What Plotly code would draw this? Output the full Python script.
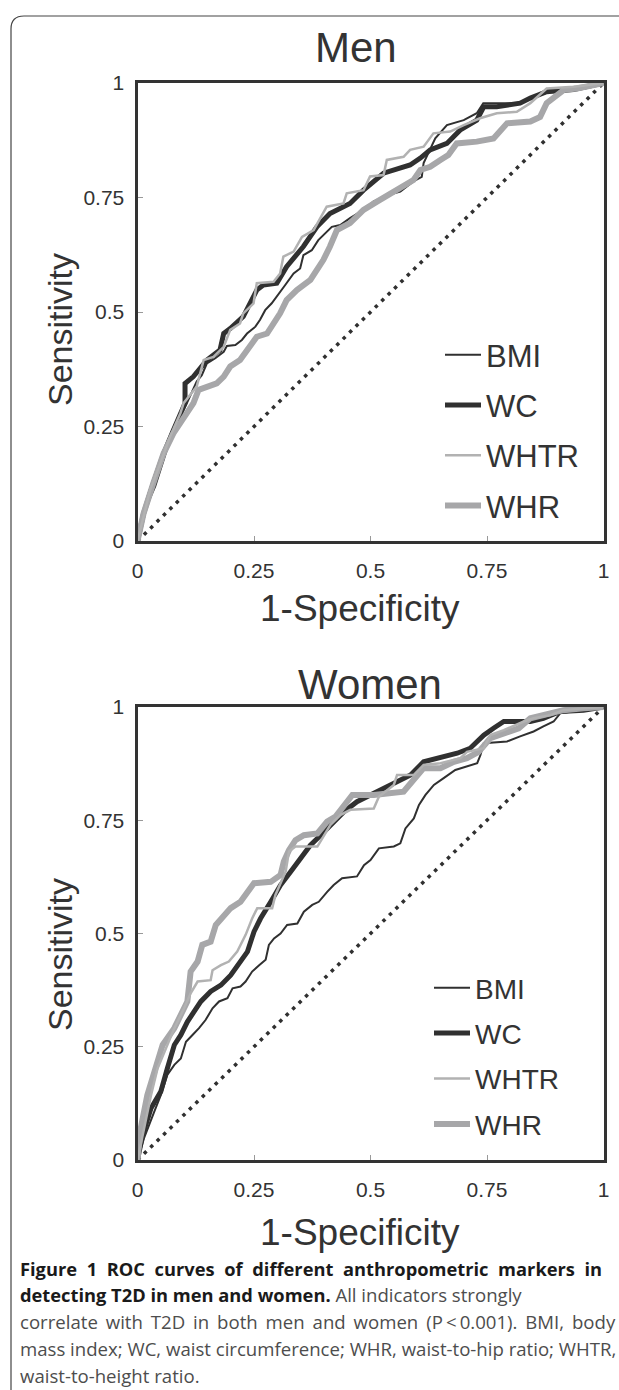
import plotly.graph_objects as go

W, H = 619, 1390

def px(x):
    return x / W

def py(y):
    return 1 - y / H

# ---------------- data ----------------
tick_vals = [0, 0.25, 0.5, 0.75, 1]
tick_text = ["0", "0.25", "0.5", "0.75", "1"]
diag_x = [0, 1]
diag_y = [0, 1]

# Men
men_bmi_x = [0, 0.016, 0.038, 0.063, 0.084, 0.106, 0.127, 0.138, 0.149, 0.167, 0.185, 0.192, 0.210, 0.224, 0.235, 0.253, 0.263, 0.274, 0.288, 0.303, 0.317, 0.335, 0.349, 0.356, 0.374, 0.388, 0.403, 0.417, 0.435, 0.456, 0.485, 0.506, 0.535, 0.564, 0.592, 0.610, 0.614, 0.628, 0.639, 0.664, 0.700, 0.728, 0.742, 0.818, 0.864, 0.900, 0.936, 0.986, 1]
men_bmi_y = [0, 0.068, 0.119, 0.199, 0.257, 0.301, 0.348, 0.362, 0.388, 0.399, 0.413, 0.426, 0.428, 0.439, 0.453, 0.468, 0.483, 0.504, 0.519, 0.541, 0.559, 0.584, 0.595, 0.624, 0.635, 0.657, 0.672, 0.686, 0.690, 0.705, 0.723, 0.741, 0.755, 0.763, 0.785, 0.795, 0.825, 0.854, 0.879, 0.908, 0.919, 0.934, 0.956, 0.956, 0.974, 0.985, 0.985, 0.996, 1]

men_wc_x = [0, 0.013, 0.034, 0.056, 0.077, 0.102, 0.102, 0.120, 0.149, 0.177, 0.185, 0.199, 0.227, 0.256, 0.270, 0.299, 0.320, 0.356, 0.385, 0.413, 0.456, 0.485, 0.528, 0.585, 0.607, 0.628, 0.664, 0.692, 0.728, 0.743, 0.771, 0.821, 0.843, 0.878, 0.936, 0.986, 1]
men_wc_y = [0, 0.060, 0.126, 0.191, 0.242, 0.301, 0.344, 0.359, 0.395, 0.417, 0.453, 0.464, 0.490, 0.548, 0.559, 0.563, 0.599, 0.643, 0.686, 0.715, 0.737, 0.766, 0.803, 0.821, 0.836, 0.854, 0.868, 0.897, 0.919, 0.948, 0.948, 0.956, 0.967, 0.981, 0.986, 0.996, 1]

men_whtr_x = [0, 0.013, 0.027, 0.049, 0.070, 0.092, 0.099, 0.127, 0.142, 0.163, 0.185, 0.199, 0.220, 0.227, 0.249, 0.256, 0.292, 0.306, 0.313, 0.335, 0.353, 0.378, 0.406, 0.442, 0.449, 0.485, 0.499, 0.528, 0.535, 0.571, 0.585, 0.614, 0.635, 0.671, 0.700, 0.735, 0.771, 0.814, 0.843, 0.878, 0.936, 1]
men_whtr_y = [0, 0.053, 0.111, 0.170, 0.228, 0.279, 0.301, 0.337, 0.395, 0.402, 0.424, 0.461, 0.475, 0.497, 0.519, 0.563, 0.566, 0.584, 0.621, 0.632, 0.664, 0.679, 0.730, 0.737, 0.759, 0.766, 0.796, 0.799, 0.832, 0.839, 0.854, 0.861, 0.890, 0.894, 0.908, 0.923, 0.934, 0.937, 0.956, 0.988, 0.992, 1]

men_whr_x = [0, 0.013, 0.034, 0.056, 0.077, 0.099, 0.120, 0.131, 0.149, 0.170, 0.185, 0.199, 0.220, 0.235, 0.256, 0.278, 0.292, 0.306, 0.320, 0.342, 0.371, 0.385, 0.399, 0.413, 0.428, 0.456, 0.485, 0.514, 0.542, 0.571, 0.592, 0.607, 0.628, 0.650, 0.667, 0.685, 0.728, 0.764, 0.778, 0.793, 0.843, 0.864, 0.878, 0.900, 0.915, 0.943, 0.986, 1]
men_whr_y = [0, 0.060, 0.126, 0.191, 0.235, 0.271, 0.301, 0.330, 0.337, 0.344, 0.359, 0.381, 0.395, 0.417, 0.446, 0.453, 0.475, 0.497, 0.526, 0.548, 0.570, 0.592, 0.614, 0.643, 0.679, 0.694, 0.723, 0.741, 0.759, 0.777, 0.788, 0.810, 0.817, 0.832, 0.843, 0.868, 0.872, 0.879, 0.897, 0.912, 0.916, 0.926, 0.956, 0.974, 0.985, 0.988, 0.996, 1]

# Women
women_bmi_x = [0, 0.014, 0.036, 0.050, 0.064, 0.079, 0.093, 0.104, 0.118, 0.132, 0.146, 0.161, 0.175, 0.193, 0.204, 0.221, 0.232, 0.246, 0.261, 0.275, 0.282, 0.293, 0.307, 0.321, 0.343, 0.357, 0.375, 0.389, 0.407, 0.421, 0.439, 0.471, 0.486, 0.500, 0.518, 0.550, 0.564, 0.575, 0.593, 0.604, 0.618, 0.636, 0.657, 0.682, 0.729, 0.736, 0.743, 0.793, 0.821, 0.850, 0.871, 0.893, 0.907, 0.957, 1]
women_bmi_y = [0, 0.048, 0.107, 0.143, 0.188, 0.210, 0.224, 0.261, 0.276, 0.291, 0.309, 0.335, 0.350, 0.357, 0.379, 0.383, 0.394, 0.416, 0.430, 0.442, 0.475, 0.489, 0.500, 0.519, 0.522, 0.548, 0.563, 0.570, 0.592, 0.607, 0.622, 0.626, 0.651, 0.662, 0.688, 0.692, 0.699, 0.732, 0.754, 0.784, 0.806, 0.828, 0.843, 0.861, 0.876, 0.894, 0.920, 0.924, 0.935, 0.946, 0.957, 0.968, 0.986, 0.993, 1]

women_wc_x = [0, 0.011, 0.029, 0.050, 0.064, 0.079, 0.093, 0.107, 0.121, 0.136, 0.157, 0.179, 0.200, 0.221, 0.236, 0.250, 0.264, 0.286, 0.307, 0.329, 0.350, 0.371, 0.393, 0.414, 0.443, 0.471, 0.500, 0.543, 0.586, 0.614, 0.643, 0.686, 0.714, 0.743, 0.764, 0.786, 0.843, 0.871, 0.907, 0.957, 1]
women_wc_y = [0, 0.055, 0.114, 0.151, 0.202, 0.254, 0.276, 0.305, 0.327, 0.350, 0.372, 0.386, 0.408, 0.438, 0.460, 0.504, 0.533, 0.570, 0.607, 0.637, 0.666, 0.695, 0.717, 0.740, 0.769, 0.791, 0.806, 0.828, 0.850, 0.879, 0.887, 0.898, 0.909, 0.938, 0.953, 0.968, 0.968, 0.975, 0.990, 0.993, 1]

women_whtr_x = [0, 0.014, 0.029, 0.043, 0.061, 0.079, 0.100, 0.114, 0.129, 0.157, 0.161, 0.179, 0.196, 0.214, 0.232, 0.246, 0.257, 0.289, 0.296, 0.307, 0.318, 0.325, 0.339, 0.386, 0.396, 0.414, 0.436, 0.457, 0.507, 0.518, 0.550, 0.557, 0.593, 0.614, 0.650, 0.693, 0.707, 0.743, 0.757, 0.786, 0.829, 0.850, 0.886, 0.914, 0.957, 1]
women_whtr_y = [0, 0.070, 0.143, 0.202, 0.247, 0.291, 0.335, 0.368, 0.394, 0.397, 0.419, 0.430, 0.438, 0.460, 0.497, 0.533, 0.556, 0.556, 0.585, 0.611, 0.637, 0.681, 0.692, 0.692, 0.710, 0.740, 0.762, 0.773, 0.776, 0.802, 0.828, 0.850, 0.850, 0.872, 0.876, 0.887, 0.901, 0.909, 0.938, 0.949, 0.968, 0.975, 0.982, 0.993, 0.997, 1]

women_whr_x = [0, 0.007, 0.021, 0.036, 0.054, 0.079, 0.093, 0.107, 0.114, 0.129, 0.139, 0.157, 0.168, 0.186, 0.200, 0.221, 0.236, 0.250, 0.286, 0.307, 0.314, 0.325, 0.339, 0.357, 0.386, 0.407, 0.425, 0.443, 0.461, 0.507, 0.543, 0.571, 0.589, 0.614, 0.650, 0.679, 0.707, 0.732, 0.757, 0.786, 0.818, 0.843, 0.871, 0.914, 0.957, 1]
women_whr_y = [0, 0.070, 0.143, 0.195, 0.254, 0.291, 0.320, 0.350, 0.416, 0.438, 0.475, 0.482, 0.519, 0.541, 0.556, 0.570, 0.592, 0.611, 0.614, 0.629, 0.659, 0.684, 0.706, 0.717, 0.721, 0.747, 0.758, 0.784, 0.806, 0.806, 0.809, 0.813, 0.835, 0.865, 0.865, 0.879, 0.887, 0.901, 0.931, 0.942, 0.953, 0.975, 0.982, 0.993, 0.997, 1]

series_names = ["BMI", "WC", "WHTR", "WHR"]
panel_titles = ["Men", "Women"]
x_title = "1-Specificity"
y_title = "Sensitivity"
caption_lines = [
    "Figure 1 ROC curves of different anthropometric markers in",
    "detecting T2D in men and women.",
    "All indicators strongly",
    "correlate with T2D in both men and women (P\u2009<\u20090.001). BMI, body",
    "mass index; WC, waist circumference; WHR, waist-to-hip ratio; WHTR,",
    "waist-to-height ratio.",
]

# ---------------- styles ----------------
DARK = "#303030"
styles = {
    "BMI": dict(color=DARK, width=2),
    "WC": dict(color=DARK, width=5),
    "WHTR": dict(color="#b2b2b2", width=2.5),
    "WHR": dict(color="#a7a7a9", width=6),
}
draw_order = ["WC", "BMI", "WHR", "WHTR"]
FONT = "Liberation Sans, Arial, sans-serif"
CAP_FONT = "Open Sans, Noto Sans, sans-serif"

panels = [
    dict(data={"BMI": (men_bmi_x, men_bmi_y), "WC": (men_wc_x, men_wc_y),
               "WHTR": (men_whtr_x, men_whtr_y), "WHR": (men_whr_x, men_whr_y)},
         xa="x", ya="y", legend="legend"),
    dict(data={"BMI": (women_bmi_x, women_bmi_y), "WC": (women_wc_x, women_wc_y),
               "WHTR": (women_whtr_x, women_whtr_y), "WHR": (women_whr_x, women_whr_y)},
         xa="x2", ya="y2", legend="legend2"),
]

fig = go.Figure()
for p in panels:
    fig.add_trace(go.Scatter(x=diag_x, y=diag_y, mode="lines", xaxis=p["xa"], yaxis=p["ya"],
                             line=dict(color=DARK, width=3.5, dash="3.5px,5.5px"),
                             showlegend=False, hoverinfo="skip"))
    for name in draw_order:
        xs, ys = p["data"][name]
        fig.add_trace(go.Scatter(x=xs, y=ys, mode="lines", name=name, xaxis=p["xa"], yaxis=p["ya"],
                                 line=styles[name], legend=p["legend"],
                                 legendgroup=p["legend"] + name,
                                 legendrank=series_names.index(name) + 1))

top_px, bot_px = (83, 541), (707, 1160)
xdom = [px(137.5), px(603.5)]
axis_common = dict(range=[0, 1], showline=True, mirror=True, linewidth=3, linecolor="#333333",
                   showgrid=False, zeroline=False, ticks="inside", ticklen=5, tickwidth=1,
                   tickcolor="#999999", tickvals=tick_vals, ticktext=tick_text, automargin=False,
                   tickfont=dict(family=FONT, size=21, color="#333333"), fixedrange=True)

fig.update_layout(
    template="none",
    width=W, height=H, margin=dict(l=0, r=0, t=0, b=0, pad=0, autoexpand=False),
    paper_bgcolor="white", plot_bgcolor="white",
    xaxis=dict(domain=xdom, anchor="y", ticklabelstandoff=9, **axis_common),
    yaxis=dict(domain=[py(top_px[1]), py(top_px[0])], anchor="x", ticklabelstandoff=6, **axis_common),
    xaxis2=dict(domain=xdom, anchor="y2", ticklabelstandoff=9, **axis_common),
    yaxis2=dict(domain=[py(bot_px[1]), py(bot_px[0])], anchor="x2", ticklabelstandoff=6, **axis_common),
    legend=dict(x=px(440), y=py(328), xanchor="left", yanchor="top", bgcolor="rgba(0,0,0,0)",
                font=dict(family=FONT, size=31, color="#333333"), tracegroupgap=7, itemwidth=36,
                traceorder="grouped", borderwidth=0),
    legend2=dict(x=px(429), y=py(963), xanchor="left", yanchor="top", bgcolor="rgba(0,0,0,0)",
                 font=dict(family=FONT, size=28, color="#333333"), tracegroupgap=6, itemwidth=36,
                 traceorder="grouped", borderwidth=0),
    showlegend=True,
)

ann = []
for title, tx, ty in zip(panel_titles, [356, 370], [48, 684]):
    ann.append(dict(text=title, x=px(tx), y=py(ty), xref="paper", yref="paper", showarrow=False,
                    xanchor="center", yanchor="middle", font=dict(family=FONT, size=42, color="#333333")))
for yc in [330, 955]:
    ann.append(dict(text=y_title, x=px(60), y=py(yc), xref="paper", yref="paper", showarrow=False,
                    textangle=-90, xanchor="center", yanchor="middle",
                    font=dict(family=FONT, size=34, color="#333333")))
for yc in [608, 1232]:
    ann.append(dict(text=x_title, x=px(360), y=py(yc), xref="paper", yref="paper", showarrow=False,
                    xanchor="center", yanchor="middle", font=dict(family=FONT, size=37, color="#333333")))


def justify(s, extra):
    return s.replace(" ", " " + extra)


CAP_X0 = 18
cap_y = [1268 + i * 26.8 for i in range(5)]
# line 1 (bold, justified)
ann.append(dict(text="<b>" + justify(caption_lines[0], "\u2009\u200a") + "</b>", x=px(CAP_X0), y=py(cap_y[0]),
                xref="paper", yref="paper", showarrow=False, xanchor="left", yanchor="middle",
                font=dict(family=CAP_FONT, size=18.3, color="#1a1a1a")))
# line 2 (bold lead + regular)
ann.append(dict(text="<b>" + caption_lines[1] + "</b> <span style='color:#4d4d4d;font-size:18.6px'>"
                + caption_lines[2] + "</span>", x=px(CAP_X0), y=py(cap_y[1]),
                xref="paper", yref="paper", showarrow=False, xanchor="left", yanchor="middle",
                font=dict(family=CAP_FONT, size=18.3, color="#1a1a1a")))
# lines 3-5 regular
for k, (line, extra) in enumerate(zip(caption_lines[3:], ["\u2009", "", ""])):
    ann.append(dict(text=justify(line, extra) if extra else line, x=px(CAP_X0), y=py(cap_y[2 + k]),
                    xref="paper", yref="paper", showarrow=False, xanchor="left", yanchor="middle",
                    font=dict(family=CAP_FONT, size=18.6, color="#4d4d4d")))
fig.update_layout(annotations=ann)

# rounded frame around the figure panel
fig.add_shape(type="path", xref="paper", yref="paper",
              path=f"M {px(11)},{py(1400)} L {px(11)},{py(29)} Q {px(11)},{py(16)} {px(24)},{py(16)} L {px(640)},{py(16)}",
              line=dict(color="#444444", width=1.2))

fig.write_html("out.html", config={"displayModeBar": False, "responsive": False},
               post_script="document.body.style.margin='0';document.body.style.overflow='hidden';")
